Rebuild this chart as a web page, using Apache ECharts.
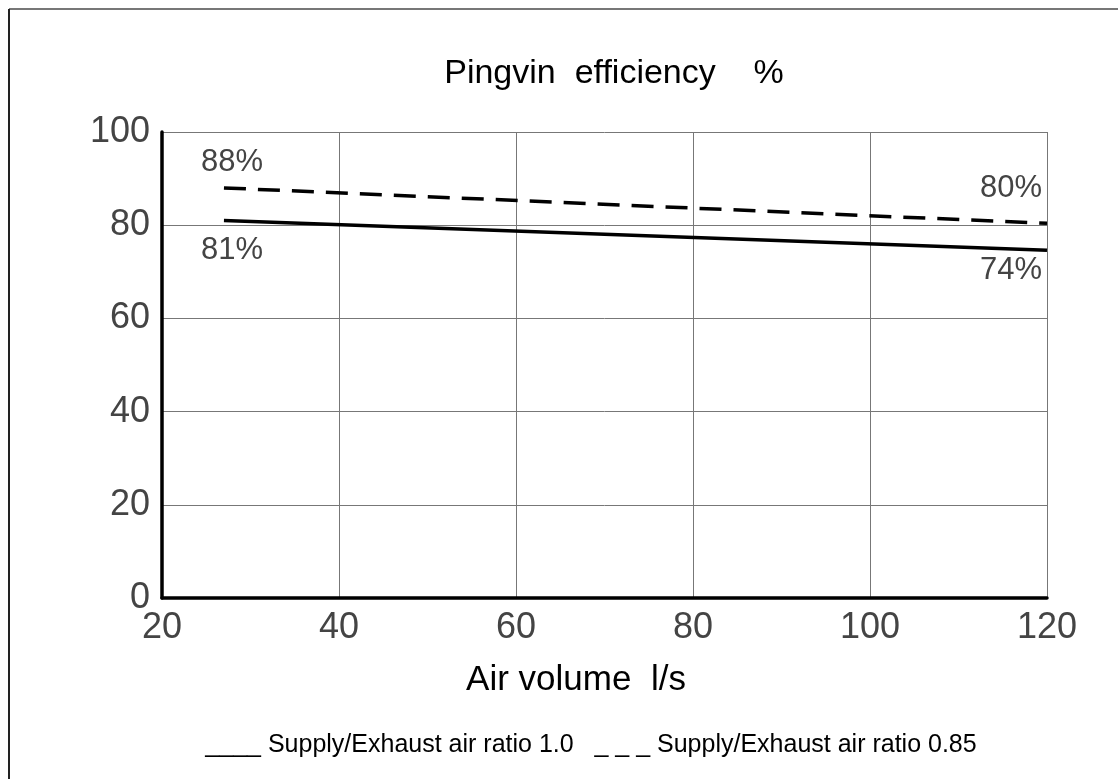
<!DOCTYPE html>
<html>
<head>
<meta charset="utf-8">
<script src="https://cdn.jsdelivr.net/npm/echarts@6/dist/echarts.min.js"></script>
<style>html,body{margin:0;padding:0;background:#fff}#c{width:1118px;height:779px}</style>
</head>
<body>
<div id="c"></div>
<script>
var titleText = 'Pingvin  efficiency    %';
var xAxisName = 'Air volume  l/s';
var legendText = '____ Supply/Exhaust air ratio 1.0   _ _ _ Supply/Exhaust air ratio 0.85';
var xTicks = { min: 20, max: 120, interval: 20 };
var yTicks = { min: 0, max: 100, interval: 20 };
var airVolume = [27, 120];
var ratio10 = [81, 74.6];
var ratio085 = [88, 80.4];
var ratio10Labels = ['81%', '74%'];
var ratio085Labels = ['88%', '80%'];

var stroke = 'Liberation Sans';
function pts(vals, labels, offs, aligns) {
  return airVolume.map(function (x, i) {
    return {
      value: [x, vals[i]],
      label: {
        show: true, formatter: labels[i], position: 'inside',
        align: aligns[i], verticalAlign: 'middle', offset: offs[i],
        fontFamily: stroke, fontSize: 31, color: '#444', fontWeight: 'normal'
      }
    };
  });
}
var chart = echarts.init(document.getElementById('c'));
chart.setOption({
  animation: false,
  backgroundColor: '#fff',
  grid: { left: 162, right: 71, top: 132, bottom: 181, containLabel: false },
  xAxis: {
    type: 'value', min: xTicks.min, max: xTicks.max, interval: xTicks.interval,
    axisLine: { show: true, onZero: false, lineStyle: { color: '#000', width: 3.5 } },
    axisTick: { show: false },
    axisLabel: { margin: 12, fontFamily: stroke, fontSize: 36, color: '#444' },
    splitLine: { show: true, lineStyle: { color: '#777', width: 1 } }
  },
  yAxis: {
    type: 'value', min: yTicks.min, max: yTicks.max, interval: yTicks.interval,
    axisLine: { show: true, onZero: false, lineStyle: { color: '#000', width: 3.5 } },
    axisTick: { show: false },
    axisLabel: { margin: 12, fontFamily: stroke, fontSize: 36, color: '#444' },
    splitLine: { show: true, lineStyle: { color: '#777', width: 1 } }
  },
  series: [
    {
      type: 'line', name: 'Supply/Exhaust air ratio 1.0',
      data: pts(ratio10, ratio10Labels, [[-23, 30], [-5, 20]], ['left', 'right']),
      showSymbol: true, symbol: 'circle', symbolSize: 1,
      itemStyle: { color: 'rgba(0,0,0,0)', borderWidth: 0 },
      lineStyle: { color: '#000', width: 3.5, type: 'solid' }
    },
    {
      type: 'line', name: 'Supply/Exhaust air ratio 0.85',
      data: pts(ratio085, ratio085Labels, [[-23, -25], [-5, -35]], ['left', 'right']),
      showSymbol: true, symbol: 'circle', symbolSize: 1,
      itemStyle: { color: 'rgba(0,0,0,0)', borderWidth: 0 },
      lineStyle: { color: '#000', width: 3.5, type: [22, 12] }
    }
  ],
  graphic: [
    { type: 'line', shape: { x1: 9, y1: 9, x2: 1118, y2: 9 }, style: { stroke: '#777', lineWidth: 2 } },
    { type: 'line', shape: { x1: 9, y1: 9, x2: 9, y2: 779 }, style: { stroke: '#222', lineWidth: 2 } },
    {
      type: 'text', x: 614, y: 74,
      style: { text: titleText, fontFamily: 'Liberation Sans', fontSize: 34, fill: '#000', align: 'center', verticalAlign: 'middle' }
    },
    {
      type: 'text', x: 576, y: 680,
      style: { text: xAxisName, fontFamily: 'Liberation Sans', fontSize: 35, fill: '#000', align: 'center', verticalAlign: 'middle' }
    },
    {
      type: 'text', x: 591, y: 745,
      style: { text: legendText, fontFamily: 'Liberation Sans', fontSize: 25, fill: '#000', align: 'center', verticalAlign: 'middle' }
    }
  ]
});
</script>
</body>
</html>
